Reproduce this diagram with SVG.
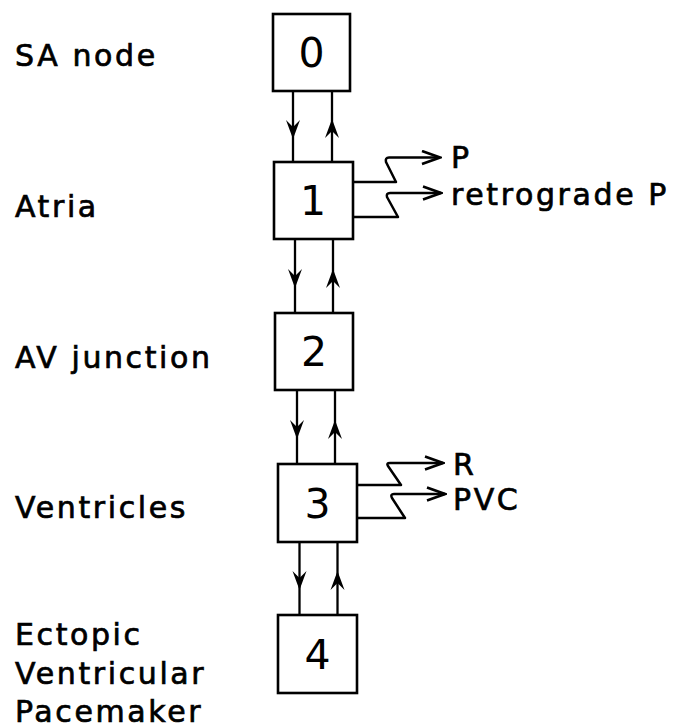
<svg xmlns="http://www.w3.org/2000/svg" width="673" height="728" viewBox="0 0 673 728">
  <style>
    .box { fill: #fff; stroke: #000; stroke-width: 2.6; }
    .num { font-family: "DejaVu Sans", sans-serif; font-size: 41px; fill: #000; text-anchor: middle; }
    .lbl { font-family: "DejaVu Sans", sans-serif; font-size: 30px; fill: #000; stroke: #000; stroke-width: 0.7; letter-spacing: 2.6px; }
    .vline { fill: none; stroke: #000; stroke-width: 2.3; }
    .down { marker-mid: url(#head); }
    .up { marker-mid: url(#head); }
    .wave { fill: none; stroke: #000; stroke-width: 2.5; stroke-linejoin: round; marker-end: url(#open); }
  </style>
  <defs>
    <marker id="head" markerUnits="userSpaceOnUse" viewBox="-20 -8 22 16" refX="0" refY="0" markerWidth="22" markerHeight="16" orient="auto">
      <path d="M1,0 L-18,-7 L-11,0 L-18,7 Z" fill="#000"/>
    </marker>
    <marker id="open" markerUnits="userSpaceOnUse" viewBox="-20 -8 22 16" refX="0" refY="0" markerWidth="22" markerHeight="16" orient="auto">
      <path d="M-18,-6.5 L0,0 L-18,6.5" fill="none" stroke="#000" stroke-width="2.6" stroke-linejoin="miter"/>
    </marker>
  </defs>

  <rect width="673" height="728" fill="#fff"/>

  <g id="connectors">
    <path class="vline down" d="M293,91 L293,138 L293,162"/>
    <path class="vline up" d="M332,162 L332,120 L332,91"/>
    <path class="vline down" d="M295,239 L295,287 L295,313"/>
    <path class="vline up" d="M333,313 L333,270 L333,239"/>
    <path class="vline down" d="M297,390 L297,438 L297,464"/>
    <path class="vline up" d="M335,464 L335,421 L335,390"/>
    <path class="vline down" d="M299.5,542 L299.5,589 L299.5,615"/>
    <path class="vline up" d="M337.5,615 L337.5,572 L337.5,542"/>

    <path class="wave" d="M353,182 H396 L386,162 Q385,157.5 389,157.5 H440"/>
    <path class="wave" d="M353,217 H398 L387,197 Q386,193 390,193 H441"/>
    <path class="wave" d="M357,485 H401 L388,466 Q386,463 390,463 H443"/>
    <path class="wave" d="M357,518 H405 L392,498 Q390,494 394,494 H445"/>
  </g>

  <g id="node0">
    <rect class="box" x="273" y="14" width="77" height="77"/>
    <text class="num" x="311.5" y="67">0</text>
  </g>
  <g id="node1">
    <rect class="box" x="274" y="162" width="79" height="77"/>
    <text class="num" x="313" y="215">1</text>
  </g>
  <g id="node2">
    <rect class="box" x="275" y="313" width="78" height="77"/>
    <text class="num" x="314" y="366">2</text>
  </g>
  <g id="node3">
    <rect class="box" x="278" y="464" width="79" height="78"/>
    <text class="num" x="317.5" y="518">3</text>
  </g>
  <g id="node4">
    <rect class="box" x="278" y="615" width="79" height="78"/>
    <text class="num" x="317.5" y="669">4</text>
  </g>

  <g id="labels">
    <text class="lbl" x="15" y="66">SA node</text>
    <text class="lbl" x="15" y="217">Atria</text>
    <text class="lbl" x="15" y="368">AV junction</text>
    <text class="lbl" x="15" y="518">Ventricles</text>
    <text class="lbl" x="15" y="645">Ectopic</text>
    <text class="lbl" x="15" y="684">Ventricular</text>
    <text class="lbl" x="15" y="722">Pacemaker</text>
  </g>

  <g id="outputs">
    <text class="lbl" x="451" y="168">P</text>
    <text class="lbl" x="451" y="205">retrograde P</text>
    <text class="lbl" x="453" y="475">R</text>
    <text class="lbl" x="453" y="510">PVC</text>
  </g>
</svg>
